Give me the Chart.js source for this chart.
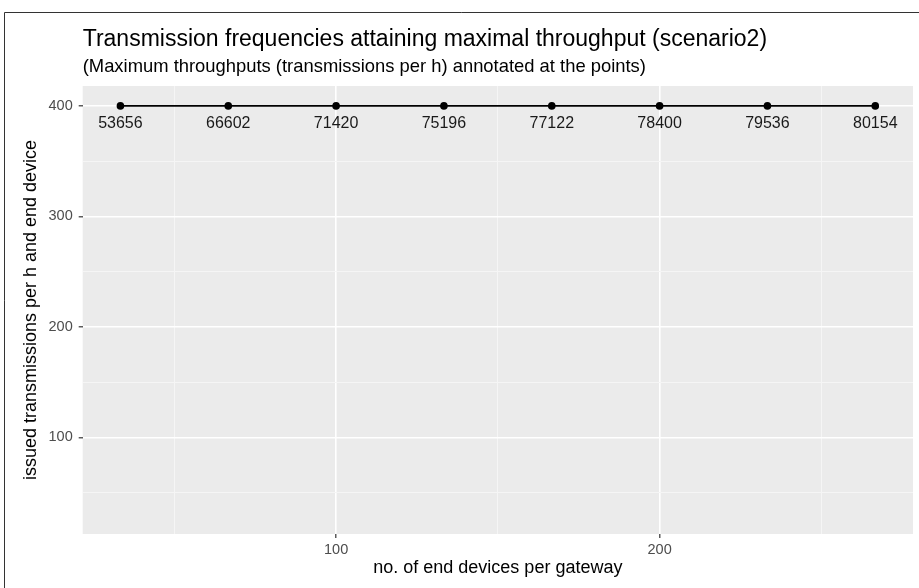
<!DOCTYPE html>
<html>
<head>
<meta charset="utf-8">
<script src="https://cdn.jsdelivr.net/npm/chart.js@4"></script>
<style>
  body { margin: 0; background: #ffffff; }
  canvas { display: block; }
</style>
</head>
<body>
<canvas id="throughputChart" width="919" height="588"></canvas>
<script>
// end devices per gateway (x) and issued transmissions per h (y)
let devices = [33.33, 66.67, 100, 133.33, 166.67, 200, 233.33, 266.67];
let transmissions = [400, 400, 400, 400, 400, 400, 400, 400];
// maximum throughput annotated at each point
let maxThroughput = ['53656', '66602', '71420', '75196', '77122', '78400', '79536', '80154'];

let xTicks = [50, 100, 150, 200, 250];
let yTicks = [50, 100, 150, 200, 250, 300, 350, 400];

const FONT = "'Liberation Sans', Arial, sans-serif";

const isMajor = (v) => v % 100 === 0;

// grey panel + outer frame
const panelBg = {
    id: 'panelBg',
    beforeDraw(chart) {
        const { ctx, chartArea } = chart;
        ctx.save();
        ctx.fillStyle = '#ebebeb';
        ctx.fillRect(chartArea.left, chartArea.top, chartArea.right - chartArea.left, chartArea.bottom - chartArea.top);
        ctx.strokeStyle = '#333333';
        ctx.lineWidth = 1;
        ctx.beginPath();
        ctx.moveTo(4.5, 588);
        ctx.lineTo(4.5, 12.5);
        ctx.lineTo(919, 12.5);
        ctx.stroke();
        ctx.restore();
    }
};

// title and subtitle, left aligned with the panel
const titles = {
    id: 'titles',
    afterDraw(chart) {
        const { ctx, chartArea } = chart;
        ctx.save();
        ctx.fillStyle = '#000000';
        ctx.textAlign = 'left';
        ctx.textBaseline = 'alphabetic';
        ctx.font = '23px ' + FONT;
        ctx.fillText('Transmission frequencies attaining maximal throughput (scenario2)', chartArea.left, 46);
        ctx.font = '18.4px ' + FONT;
        ctx.fillText('(Maximum throughputs (transmissions per h) annotated at the points)', chartArea.left, 72);
        ctx.restore();
    }
};

// throughput labels under the points
const pointLabels = {
    id: 'pointLabels',
    afterDatasetsDraw(chart) {
        const { ctx } = chart;
        const meta = chart.getDatasetMeta(0);
        ctx.save();
        ctx.fillStyle = '#1a1a1a';
        ctx.font = '16px ' + FONT;
        ctx.textAlign = 'center';
        ctx.textBaseline = 'middle';
        meta.data.forEach((pt, i) => {
            ctx.fillText(maxThroughput[i], pt.x, pt.y + 18);
        });
        ctx.restore();
    }
};

new Chart(document.getElementById('throughputChart'), {
    type: 'line',
    data: {
        datasets: [
            {
                data: devices.map((d, i) => ({ x: d, y: transmissions[i] })),
                borderColor: '#000000',
                backgroundColor: '#000000',
                borderWidth: 1.8,
                pointRadius: 3.8,
                pointHoverRadius: 3.8,
                pointBorderWidth: 0,
                clip: false
            }
        ]
    },
    options: {
        responsive: false,
        animation: false,
        devicePixelRatio: 1,
        layout: { padding: { top: 86, right: 6, left: 5, bottom: 0 } },
        plugins: {
            legend: { display: false },
            tooltip: { enabled: false },
            title: { display: false }
        },
        scales: {
            x: {
                type: 'linear',
                min: 21.67,
                max: 278.33,
                afterBuildTicks: (s) => { s.ticks = xTicks.map(v => ({ value: v })); },
                afterFit: (s) => { s.height = 54; },
                border: { display: false },
                grid: {
                    color: (c) => isMajor(c.tick.value) ? '#ffffff' : '#f5f5f5',
                    lineWidth: (c) => isMajor(c.tick.value) ? 1.6 : 1,
                    tickColor: (c) => isMajor(c.tick.value) ? '#333333' : 'rgba(0,0,0,0)',
                    tickLength: 4,
                    tickWidth: 1.2
                },
                ticks: {
                    callback: (v) => isMajor(v) ? v : '',
                    color: '#4d4d4d',
                    font: { family: FONT, size: 14.5 },
                    padding: 3,
                    maxRotation: 0,
                    autoSkip: false
                },
                title: {
                    display: true,
                    text: 'no. of end devices per gateway',
                    color: '#000000',
                    font: { family: FONT, size: 18 },
                    padding: { top: 0, bottom: 9 }
                }
            },
            y: {
                min: 12.5,
                max: 418,
                afterBuildTicks: (s) => { s.ticks = yTicks.map(v => ({ value: v })); },
                afterFit: (s) => { s.width = 77.7; },
                border: { display: false },
                grid: {
                    color: (c) => isMajor(c.tick.value) ? '#ffffff' : '#f5f5f5',
                    lineWidth: (c) => isMajor(c.tick.value) ? 1.6 : 1,
                    tickColor: (c) => isMajor(c.tick.value) ? '#333333' : 'rgba(0,0,0,0)',
                    tickLength: 4,
                    tickWidth: 1.2
                },
                ticks: {
                    callback: (v) => isMajor(v) ? v : '',
                    color: '#4d4d4d',
                    font: { family: FONT, size: 14.5 },
                    padding: 6,
                    autoSkip: false
                },
                title: {
                    display: true,
                    text: 'issued transmissions per h and end device',
                    color: '#000000',
                    font: { family: FONT, size: 18 },
                    padding: { top: 15, bottom: 0 }
                }
            }
        }
    },
    plugins: [panelBg, pointLabels, titles]
});
</script>
</body>
</html>
